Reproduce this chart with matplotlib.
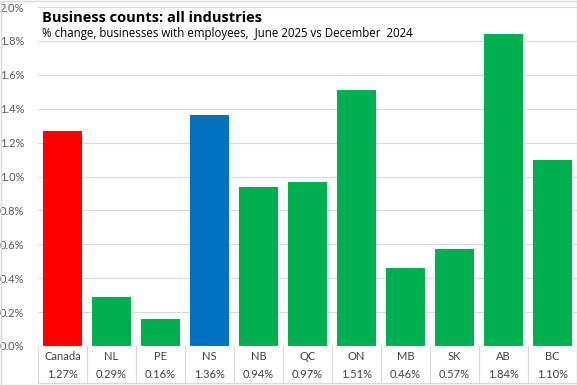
import matplotlib
matplotlib.use("Agg")
import matplotlib.pyplot as plt
from matplotlib.patches import Rectangle
from matplotlib.lines import Line2D

categories = ["Canada", "NL", "PE", "NS", "NB", "QC", "ON", "MB", "SK", "AB", "BC"]
values = [1.27, 0.29, 0.16, 1.36, 0.94, 0.97, 1.51, 0.46, 0.57, 1.84, 1.10]
colors = ["#FF0000", "#00B050", "#00B050", "#0070C0", "#00B050", "#00B050",
          "#00B050", "#00B050", "#00B050", "#00B050", "#00B050"]
yticks = [0.0, 0.2, 0.4, 0.6, 0.8, 1.0, 1.2, 1.4, 1.6, 1.8, 2.0]

W, H = 577, 385
fig = plt.figure(figsize=(W / 100, H / 100), dpi=100)
left, right, bottom, top = 38, 577, 346, 7
ax = fig.add_axes([left / W, 1 - bottom / H, (right - left) / W, (bottom - top) / H])

n = len(categories)
x = list(range(n))
ax.bar(x, values, width=0.78, color=colors, zorder=3)
ax.set_xlim(-0.5, n - 0.5)
ax.set_ylim(0, 2.0)
ax.set_yticks(yticks)
ax.set_yticklabels([f"{t:.1f}%" for t in yticks], fontsize=8, color="#595959", family="Lato")
ax.tick_params(axis="y", length=0, pad=10)
ax.tick_params(axis="x", length=0, labelbottom=False)
ax.grid(axis="y", color="#D9D9D9", linewidth=0.8, zorder=0)
for s in ax.spines.values():
    s.set_visible(False)
ax.axhline(0, color="#D9D9D9", linewidth=0.8, zorder=4)

# data table below axis
tcolor = "#404040"
for i, (c, v) in enumerate(zip(categories, values)):
    xf = (left + (i + 0.5) * (right - left) / n) / W
    fig.text(xf, 1 - 356 / H, c, ha="center", va="center", fontsize=8, color=tcolor, family="Lato")
    fig.text(xf, 1 - 374 / H, f"{v:.2f}%", ha="center", va="center", fontsize=8, color=tcolor, family="Lato")
for i in range(n + 1):
    xb = (left + i * (right - left) / n) / W
    fig.add_artist(Line2D([xb, xb], [1 - 346 / H, 1 - 383 / H], color="#D9D9D9", linewidth=0.8))
fig.add_artist(Line2D([left / W, 1], [1 - 383 / H, 1 - 383 / H], color="#D9D9D9", linewidth=0.8))

# titles
fig.text(42 / W, 1 - 18 / H, "Business counts: all industries", ha="left", va="center",
         fontsize=10.5, fontweight="bold", color="black", family="Open Sans")
fig.text(42 / W, 1 - 33 / H, "% change, businesses with employees,  June 2025 vs December  2024",
         ha="left", va="center", fontsize=8.3, color="black", family="Open Sans")

# outer border
fig.add_artist(Rectangle((0.5 / W, 0.5 / H), 1 - 1 / W, 1 - 1 / H, fill=False,
                         edgecolor="#D9D9D9", linewidth=1, transform=fig.transFigure))

fig.savefig("out.png", dpi=100)
